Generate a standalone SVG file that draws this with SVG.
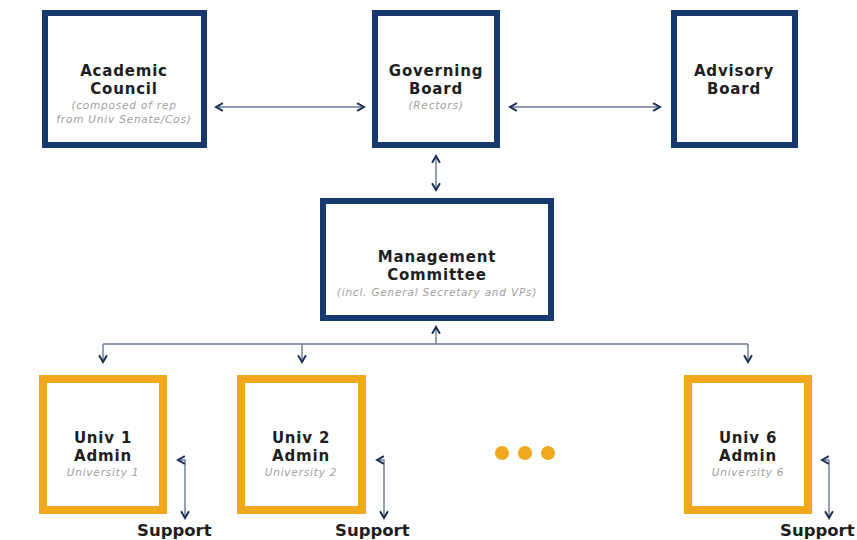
<svg xmlns="http://www.w3.org/2000/svg" width="857" height="540" viewBox="0 0 857 540">
<defs>
<style>
.nb{fill:#fff;stroke:#163a70;stroke-width:6}
.ob{fill:#fff;stroke:#f1a81e;stroke-width:8}
.t{font-family:"DejaVu Sans",sans-serif;font-weight:bold;font-size:15px;fill:#1e1e1e;text-anchor:middle;letter-spacing:0.8px}
.s{font-family:"DejaVu Sans",sans-serif;font-style:italic;font-size:10.5px;fill:#a0a0a0;text-anchor:middle;letter-spacing:0.8px}
.c{fill:none;stroke:#6b7a95;stroke-width:1.4}
.sup{font-family:"DejaVu Sans",sans-serif;font-weight:bold;font-size:16.5px;fill:#1e1e1e}
</style>
<marker id="ah" viewBox="0 0 10 10" refX="8" refY="5" markerWidth="7" markerHeight="7" orient="auto-start-reverse">
<path d="M1,1 L8,5 L1,9" fill="none" stroke="#1e2f55" stroke-width="2"/>
</marker>
</defs>
<rect width="857" height="540" fill="#fff"/>
<g id="connectors">
<line class="c" x1="216" y1="107" x2="364" y2="107" marker-start="url(#ah)" marker-end="url(#ah)"/>
<line class="c" x1="510" y1="107" x2="660" y2="107" marker-start="url(#ah)" marker-end="url(#ah)"/>
<line class="c" x1="436" y1="156" x2="436" y2="190" marker-start="url(#ah)" marker-end="url(#ah)"/>
<line class="c" x1="436" y1="344" x2="436" y2="327" marker-end="url(#ah)"/>
<line class="c" x1="103" y1="344" x2="748" y2="344"/>
<line class="c" x1="103" y1="344" x2="103" y2="362" marker-end="url(#ah)"/>
<line class="c" x1="302" y1="344" x2="302" y2="362" marker-end="url(#ah)"/>
<line class="c" x1="748" y1="344" x2="748" y2="362" marker-end="url(#ah)"/>
<path class="c" d="M178,460 H185 V518" marker-start="url(#ah)" marker-end="url(#ah)"/>
<path class="c" d="M377,460 H384 V518" marker-start="url(#ah)" marker-end="url(#ah)"/>
<path class="c" d="M822,460 H829 V518" marker-start="url(#ah)" marker-end="url(#ah)"/>
</g>
<g id="academic-council">
<rect class="nb" x="45" y="13" width="159" height="132"/>
<text class="t" x="124" y="76">Academic</text>
<text class="t" x="124" y="94">Council</text>
<text class="s" x="124" y="109">(composed of rep</text>
<text class="s" x="124" y="123">from Univ Senate/Cos)</text>
</g>
<g id="governing-board">
<rect class="nb" x="375" y="13" width="122" height="132"/>
<text class="t" x="436" y="76">Governing</text>
<text class="t" x="436" y="94">Board</text>
<text class="s" x="436" y="109">(Rectors)</text>
</g>
<g id="advisory-board">
<rect class="nb" x="674" y="13" width="121" height="132"/>
<text class="t" x="734" y="76">Advisory</text>
<text class="t" x="734" y="94">Board</text>
</g>
<g id="management-committee">
<rect class="nb" x="323" y="201" width="228" height="117"/>
<text class="t" x="437" y="262">Management</text>
<text class="t" x="437" y="280">Committee</text>
<text class="s" x="437" y="296">(incl. General Secretary and VPs)</text>
</g>
<g id="univ1">
<rect class="ob" x="43" y="379" width="120" height="131"/>
<text class="t" x="103" y="443">Univ 1</text>
<text class="t" x="103" y="461">Admin</text>
<text class="s" x="103" y="476">University 1</text>
<text class="sup" x="137" y="536">Support</text>
</g>
<g id="univ2">
<rect class="ob" x="241" y="379" width="121" height="131"/>
<text class="t" x="301" y="443">Univ 2</text>
<text class="t" x="301" y="461">Admin</text>
<text class="s" x="301" y="476">University 2</text>
<text class="sup" x="335" y="536">Support</text>
</g>
<g id="dots">
<circle cx="502" cy="453" r="7" fill="#f1a81e"/>
<circle cx="525" cy="453" r="7" fill="#f1a81e"/>
<circle cx="548" cy="453" r="7" fill="#f1a81e"/>
</g>
<g id="univ6">
<rect class="ob" x="688" y="379" width="120" height="131"/>
<text class="t" x="748" y="443">Univ 6</text>
<text class="t" x="748" y="461">Admin</text>
<text class="s" x="748" y="476">University 6</text>
<text class="sup" x="780" y="536">Support</text>
</g>
</svg>
